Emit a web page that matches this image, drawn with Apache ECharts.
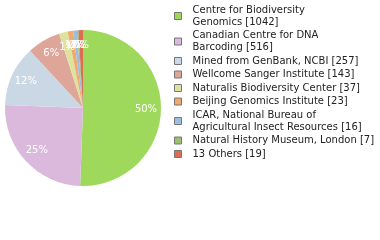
<!DOCTYPE html>
<html><head><meta charset="utf-8">
<script src="https://cdn.jsdelivr.net/npm/echarts@6/dist/echarts.min.js"></script>
<style>html,body{margin:0;padding:0;background:#fff}#c{width:380px;height:240px}</style>
</head><body><div id="c"></div>
<script>
const names = [
  "Centre for Biodiversity\nGenomics",
  "Canadian Centre for DNA\nBarcoding",
  "Mined from GenBank, NCBI",
  "Wellcome Sanger Institute",
  "Naturalis Biodiversity Center",
  "Beijing Genomics Institute",
  "ICAR, National Bureau of\nAgricultural Insect Resources",
  "Natural History Museum, London",
  "13 Others"
];
const values = [1042, 516, 257, 143, 37, 23, 16, 7, 19];
const colors = ["#9fd95b","#dbb9dc","#cad8e5","#dea699","#dde39e","#efaa6c","#9cbde0","#9dbf72","#dc6c52"];
const total = values.reduce((a,b)=>a+b,0);
const data = names.map((n,i)=>({name:n, value:values[i], itemStyle:{color:colors[i]}}));
const chart = echarts.init(document.getElementById('c'), null, {renderer:'canvas'});
chart.setOption({
  animation:false,
  legend:{
    orient:'vertical', left:174, top:4, padding:0, itemWidth:7, itemHeight:7, itemGap:1.5,
    icon:'rect', selectedMode:false,
    itemStyle:{borderColor:'#777', borderWidth:1},
    textStyle:{fontFamily:'DejaVu Sans', fontSize:10, lineHeight:12, color:'#222', padding:[0,0,0,6]},
    formatter: n => { const i = names.indexOf(n); return n + ' [' + values[i] + ']'; },
    data: names
  },
  series:[
    {type:'pie', center:[83,108], radius:[0,78], startAngle:90, clockwise:true,
     label:{show:false}, labelLine:{show:false}, silent:true, data:data},
    {type:'pie', center:[83,108], radius:[42,78], startAngle:90, clockwise:true,
     itemStyle:{color:'rgba(0,0,0,0)'}, silent:true, labelLine:{show:false},
     avoidLabelOverlap:false, labelLayout:{hideOverlap:false},
     label:{show:true, position:'inside', color:'#fff', fontFamily:'DejaVu Sans', fontSize:10,
       formatter: p => Math.floor(p.value/total*100) + '%'},
     data: names.map((n,i)=>({name:n, value:values[i], itemStyle:{color:'rgba(0,0,0,0)'}}))}
  ]
});
</script></body></html>
